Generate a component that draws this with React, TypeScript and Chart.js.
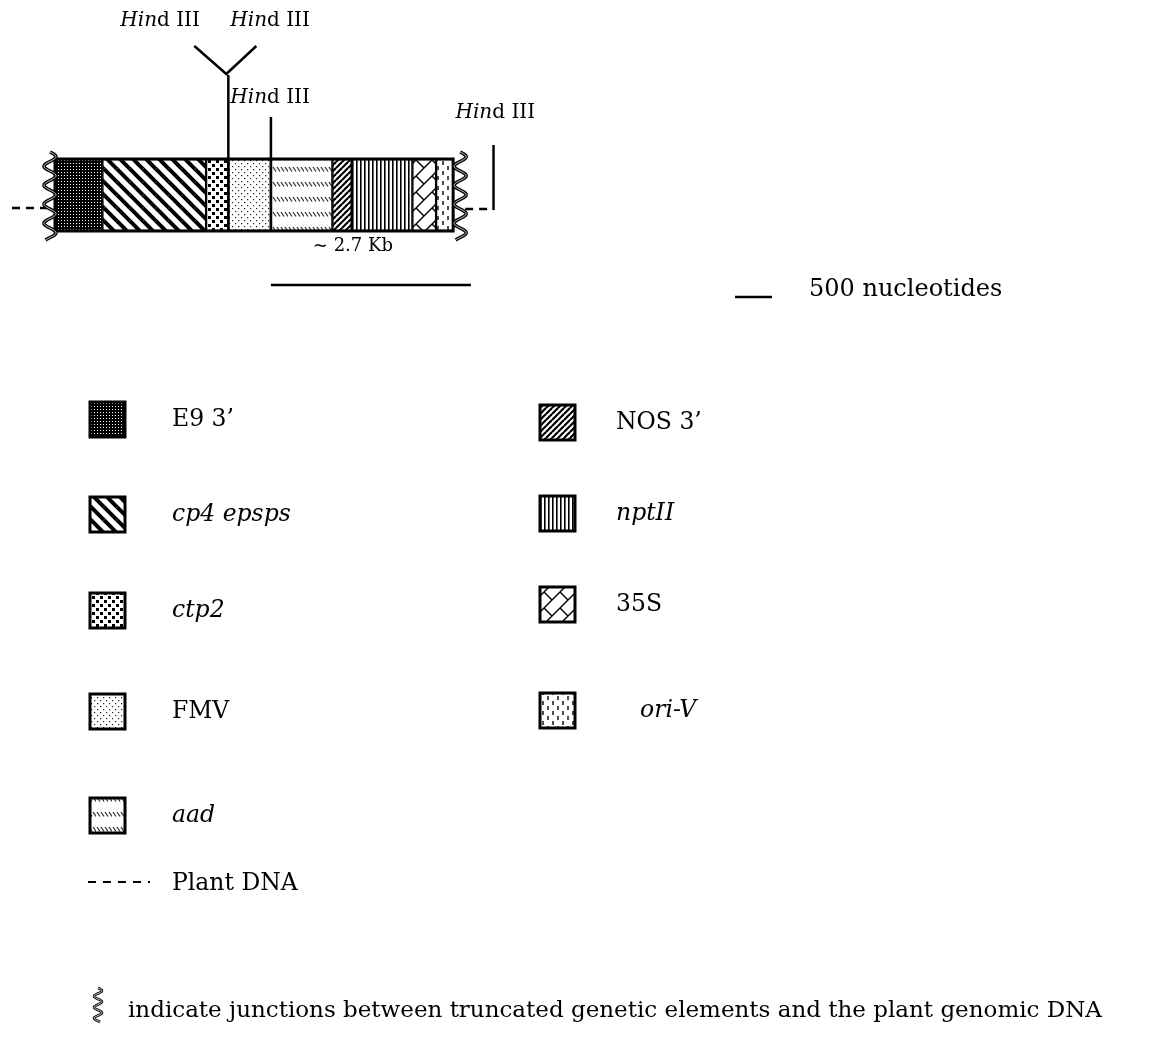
import { useEffect, useRef } from "react";
import { Chart, registerables } from "chart.js";
Chart.register(...registerables);

// ---- data (nucleotides) ----
const elementNames = ["E9 3\u2019", "cp4 epsps", "ctp2", "FMV", "aad", "NOS 3\u2019", "nptII", "35S", "ori-V"];
const elementItalic = [false, true, true, false, true, false, true, false, true];
const elementLengthsNt = [640, 1400, 300, 575, 830, 260, 820, 320, 230];
const patternKeys = ["e9", "cp4", "ctp2", "fmv", "aad", "nos", "npt", "s35", "oriv"];
const hindIIISitesNt = [2340, 2915, 5920];
const fragmentLengthNt = 2700;
const fragmentLabel = "~ 2.7 Kb";
const scaleBarNt = 500;
const scaleBarLabel = "500 nucleotides";
const legendLeftIdx = [0, 1, 2, 3, 4];
const legendRightIdx = [5, 6, 7, 8];
const plantDnaLabel = "Plant DNA";
const footnote = "indicate junctions between truncated genetic elements and the plant genomic DNA";

const W = 1155;
const H = 1044;
const NT_PER_PX = 13.5;
const X_MIN = -55 * NT_PER_PX;
const X_MAX = X_MIN + W * NT_PER_PX;
const BAR_Y = 195;
const BAR_H = 72;
const FONT = "'DejaVu Serif', serif";
const TXT = 23.5;

function makeTile(w: number, h: number, bg: string, draw: (g: CanvasRenderingContext2D) => void) {
  const c = document.createElement("canvas");
  c.width = w;
  c.height = h;
  const g = c.getContext("2d")!;
  g.fillStyle = bg;
  g.fillRect(0, 0, w, h);
  draw(g);
  return c;
}
function wrap(g: CanvasRenderingContext2D, tw: number, th: number, fn: () => void) {
  for (const dx of [-tw, 0, tw])
    for (const dy of [-th, 0, th]) {
      g.save();
      g.translate(dx, dy);
      fn();
      g.restore();
    }
}
function line(g: CanvasRenderingContext2D, x1: number, y1: number, x2: number, y2: number) {
  g.beginPath();
  g.moveTo(x1, y1);
  g.lineTo(x2, y2);
  g.stroke();
}

function buildPatterns(ctx: CanvasRenderingContext2D): Record<string, CanvasPattern> {
  const tiles: Record<string, HTMLCanvasElement> = {
    e9: makeTile(3, 3, "#000", (g) => {
      g.fillStyle = "#fff";
      g.fillRect(1, 1, 1, 1);
    }),
    cp4: makeTile(13, 13, "#fff", (g) => {
      g.strokeStyle = "#000";
      g.lineWidth = 4;
      wrap(g, 13, 13, () => line(g, 0, 0, 13, 13));
    }),
    ctp2: makeTile(8, 8, "#fff", (g) => {
      g.fillStyle = "#000";
      g.fillRect(0, 0, 3, 3);
      g.fillRect(4, 4, 3, 3);
    }),
    fmv: makeTile(6, 6, "#fff", (g) => {
      g.fillStyle = "#222";
      g.fillRect(1, 1, 1.2, 1.2);
      g.fillRect(4, 4, 1.2, 1.2);
    }),
    aad: makeTile(16, 15, "#fff", (g) => {
      g.strokeStyle = "#333";
      g.lineWidth = 1.3;
      for (const x of [1, 5, 9, 13]) line(g, x, 2, x + 3, 6.5);
    }),
    nos: makeTile(6, 6, "#fff", (g) => {
      g.strokeStyle = "#000";
      g.lineWidth = 2.2;
      wrap(g, 6, 6, () => line(g, 0, 6, 6, 0));
    }),
    npt: makeTile(4, 2, "#fff", (g) => {
      g.fillStyle = "#000";
      g.fillRect(0, 0, 1.6, 2);
    }),
    s35: makeTile(16, 16, "#fff", (g) => {
      g.strokeStyle = "#000";
      g.lineWidth = 1.4;
      wrap(g, 16, 16, () => {
        line(g, 0, 16, 16, 0);
        line(g, 0, 0, 8, 8);
      });
    }),
    oriv: makeTile(10, 10, "#fff", (g) => {
      g.strokeStyle = "#000";
      g.lineWidth = 1.4;
      line(g, 3, 1, 3, 5);
      line(g, 8, 6, 8, 10);
    }),
  };
  const out: Record<string, CanvasPattern> = {};
  for (const k of Object.keys(tiles)) out[k] = ctx.createPattern(tiles[k], "repeat")!;
  return out;
}

function drawWave(ctx: CanvasRenderingContext2D, cx: number, y0: number, y1: number, amp: number, period: number, lw: number) {
  ctx.save();
  ctx.strokeStyle = "#000";
  ctx.lineWidth = lw;
  ctx.lineJoin = "round";
  ctx.beginPath();
  for (let y = y0; y <= y1; y += 0.5) {
    const x = cx + amp * Math.sin(((y - y0) / period) * Math.PI * 2);
    if (y === y0) ctx.moveTo(x, y);
    else ctx.lineTo(x, y);
  }
  ctx.stroke();
  ctx.strokeStyle = "#fff";
  ctx.lineWidth = 0.8;
  ctx.stroke();
  ctx.restore();
}

function drawHind(ctx: CanvasRenderingContext2D, x: number, y: number, size: number) {
  ctx.save();
  ctx.fillStyle = "#000";
  ctx.textBaseline = "middle";
  ctx.textAlign = "left";
  ctx.font = `italic ${size}px ${FONT}`;
  ctx.fillText("Hin", x, y);
  const w = ctx.measureText("Hin").width;
  ctx.font = `${size}px ${FONT}`;
  ctx.fillText("d III", x + w, y);
  ctx.restore();
}

function segmentsData() {
  const data: { x: [number, number]; y: number }[] = [];
  let s = 0;
  for (const len of elementLengthsNt) {
    data.push({ x: [s, s + len], y: BAR_Y });
    s += len;
  }
  return data;
}

export default function App() {
  const ref = useRef<HTMLCanvasElement>(null);
  useEffect(() => {
    const canvas = ref.current!;
    const ctx0 = canvas.getContext("2d")!;
    const pats = buildPatterns(ctx0);
    const data = segmentsData();

    const overlay = {
      id: "overlay",
      beforeDraw(chart: any) {
        const c = chart.ctx;
        c.save();
        c.fillStyle = "#fff";
        c.fillRect(0, 0, chart.width, chart.height);
        c.restore();
      },
      afterDatasetsDraw(chart: any) {
        const c: CanvasRenderingContext2D = chart.ctx;
        const xs = chart.scales.x;
        const ys = chart.scales.y;
        const px = (v: number) => xs.getPixelForValue(v);
        const total = data[data.length - 1].x[1];
        const left = px(0);
        const right = px(total);
        const top = ys.getPixelForValue(BAR_Y) - BAR_H / 2;
        const bot = top + BAR_H;
        c.save();
        c.strokeStyle = "#000";
        c.lineWidth = 3;
        c.strokeRect(left, top, right - left, bot - top);

        // plant DNA dashes
        c.lineWidth = 2.5;
        c.setLineDash([8, 6]);
        line(c, 12, 208, left - 8, 208);
        line(c, right + 12, 209, px(hindIIISitesNt[2]), 209);
        c.setLineDash([]);

        // junction waves
        drawWave(c, left - 5, 152, 240, 6, 19, 3.5);
        drawWave(c, right + 7, 152, 240, 6, 19, 3.5);

        // HindIII sites
        c.lineWidth = 2.5;
        c.strokeStyle = "#000";
        const s1 = px(hindIIISitesNt[0]);
        line(c, s1, 75, s1, bot);
        c.beginPath();
        c.moveTo(s1 - 34, 46);
        c.lineTo(s1 - 2, 74);
        c.lineTo(s1 + 28, 46);
        c.stroke();
        const s2 = px(hindIIISitesNt[1]);
        line(c, s2, 117, s2, bot);
        const s3 = px(hindIIISitesNt[2]);
        line(c, s3, 145, s3, 210);

        drawHind(c, s1 - 108, 21, 20);
        drawHind(c, s1 + 2, 21, 20);
        drawHind(c, s1 + 2, 98, 20);
        drawHind(c, s3 - 38, 113, 20);

        // 2.7 kb fragment
        const f0 = px(hindIIISitesNt[1]);
        const f1 = px(hindIIISitesNt[1] + fragmentLengthNt);
        c.lineWidth = 2.5;
        line(c, f0, 285, f1, 285);
        c.fillStyle = "#000";
        c.font = `18px ${FONT}`;
        c.textAlign = "center";
        c.textBaseline = "middle";
        c.fillText(fragmentLabel, (f0 + f1) / 2 - 18, 246);

        // scale bar
        const sb0 = 735;
        const sb1 = px(xs.getValueForPixel(sb0) + scaleBarNt);
        c.lineWidth = 2.5;
        line(c, sb0, 297, sb1, 297);
        c.font = `24px ${FONT}`;
        c.textAlign = "left";
        c.fillText(scaleBarLabel, 809, 290);

        // legend
        const sw = 35;
        const drawItem = (i: number, x: number, y: number, tx: number) => {
          c.fillStyle = pats[patternKeys[i]];
          c.fillRect(x, y, sw, sw);
          c.lineWidth = 3;
          c.strokeStyle = "#000";
          c.strokeRect(x, y, sw, sw);
          c.fillStyle = "#000";
          c.font = `${elementItalic[i] ? "italic " : ""}${TXT}px ${FONT}`;
          c.textBaseline = "middle";
          c.textAlign = "left";
          c.fillText(elementNames[i], tx, y + sw / 2);
        };
        const leftYs = [402, 497, 593, 694, 798];
        legendLeftIdx.forEach((i, k) => drawItem(i, 90, leftYs[k], 172));
        const rightYs = [405, 496, 587, 693];
        legendRightIdx.forEach((i, k) => drawItem(i, 540, rightYs[k], i === 8 ? 640 : 616));

        // plant DNA legend
        c.lineWidth = 2;
        c.setLineDash([8, 7]);
        line(c, 88, 882, 150, 882);
        c.setLineDash([]);
        c.font = `${TXT}px ${FONT}`;
        c.fillText(plantDnaLabel, 172, 884);

        // footnote
        drawWave(c, 98, 988, 1022, 4, 11, 2.5);
        c.font = `23px ${FONT}`;
        c.fillText(footnote, 128, 1011);
        c.restore();
      },
    };

    const chart = new Chart(canvas, {
      type: "bar",
      data: {
        datasets: [
          {
            data: data as any,
            backgroundColor: patternKeys.map((k) => pats[k]) as any,
            borderColor: "#000",
            borderWidth: 1.5,
            borderSkipped: false,
            barThickness: BAR_H,
          } as any,
        ],
      },
      options: {
        animation: false,
        responsive: false,
        maintainAspectRatio: false,
        indexAxis: "y",
        events: [],
        layout: { padding: 0 },
        plugins: { legend: { display: false }, tooltip: { enabled: false }, title: { display: false } },
        scales: {
          x: { type: "linear", min: X_MIN, max: X_MAX, display: false, offset: false, grace: 0 },
          y: { type: "linear", min: 0, max: H, reverse: true, display: false, offset: false, grace: 0, bounds: "data" },
        },
      },
      plugins: [overlay],
    });
    return () => chart.destroy();
  }, []);
  return (
    <div style={{ position: "absolute", left: 0, top: 0, width: W, height: H, background: "#fff" }}>
      <canvas ref={ref} width={W} height={H} style={{ display: "block" }} />
    </div>
  );
}
